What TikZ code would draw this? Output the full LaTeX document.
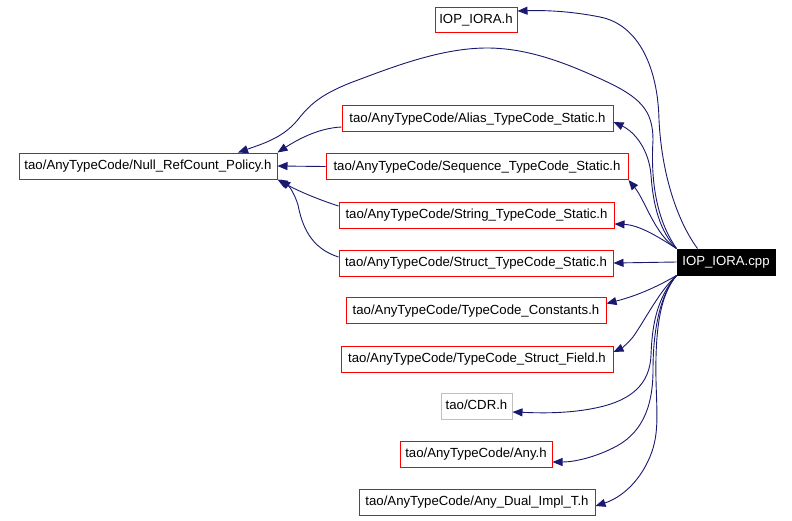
\documentclass[tikz,border=0pt]{standalone}
\usepackage{fontspec}
\setmainfont{Liberation Sans}
\usetikzlibrary{arrows.meta}
\definecolor{edgeblue}{HTML}{191970}
\definecolor{boxred}{HTML}{FF0000}
\definecolor{boxgray}{HTML}{BFBFBF}
\begin{document}
\begin{tikzpicture}[x=1pt,y=-1pt,
  box/.style={draw=boxred, line width=1pt, inner sep=0pt, minimum height=26pt,
    text height=9.5pt, text depth=2.5pt,
    font=\fontsize{13.2}{15}\selectfont, text=black, fill=white},
  graybox/.style={box, draw=boxgray},
  mainbox/.style={box, draw=black, fill=black, text=white},
  edge/.style={draw=edgeblue, line width=0.9pt, -{Triangle[length=10pt,width=8pt]}}]
\fill[white] (0,0) rectangle (792,520);
\useasboundingbox (0,0) rectangle (792,520);

% nodes
\node[box, minimum width=82pt, minimum height=25pt] (iorah) at (476,19.5) {IOP\_IORA.h};
\node[box, minimum width=258pt] (null) at (148,166) {tao/AnyTypeCode/Null\_RefCount\_Policy.h};
\node[box, minimum width=271pt] (alias) at (477.5,118.5) {tao/AnyTypeCode/Alias\_TypeCode\_Static.h};
\node[box, minimum width=302pt] (seq) at (477,166.5) {tao/AnyTypeCode/Sequence\_TypeCode\_Static.h};
\node[box, minimum width=275pt] (string) at (476.5,215) {tao/AnyTypeCode/String\_TypeCode\_Static.h};
\node[box, minimum width=274pt] (struct) at (476,263) {tao/AnyTypeCode/Struct\_TypeCode\_Static.h};
\node[box, minimum width=260pt] (const) at (476,310.5) {tao/AnyTypeCode/TypeCode\_Constants.h};
\node[box, minimum width=272pt] (field) at (477,359) {tao/AnyTypeCode/TypeCode\_Struct\_Field.h};
\node[graybox, minimum width=71pt] (cdr) at (476.5,406) {tao/CDR.h};
\node[box, minimum width=152pt] (any) at (476,454) {tao/AnyTypeCode/Any.h};
\node[box, minimum width=236pt] (dual) at (477,502) {tao/AnyTypeCode/Any\_Dual\_Impl\_T.h};
\node[mainbox, minimum width=98pt] (cpp) at (726,262) {IOP\_IORA.cpp};

% edges from IOP_IORA.cpp
\draw[edge] ([xshift=21pt]cpp.north west) .. controls (680,225) and (662,180) .. (659,120)
  .. controls (658,70) and (640,25) .. (600,17)
  .. controls (575,12) and (550,10) .. ([yshift=8.5pt]iorah.east);
\draw[edge] (cpp.north west) .. controls (660,225) and (650,190) .. (653,140)
  .. controls (653,110) and (640,97) .. (603,80)
  .. controls (570,65) and (530,48) .. (487,48)
  .. controls (440,48) and (390,68) .. (350,83)
  .. controls (320,95) and (310,105) .. (300,117)
  .. controls (285,137) and (265,143) .. ([xshift=90pt]null.north);
\draw[edge] (cpp.north west) .. controls (660,232) and (653,205) .. (651,175)
  .. controls (649,150) and (635,132) .. ([yshift=-3.5pt]alias.east);
\draw[edge] (cpp.north west) .. controls (655,235) and (645,200) .. (seq.south east);
\draw[edge] (cpp.north west) .. controls (660,238) and (640,225) .. ([yshift=-9pt]string.east);
\draw[edge] (cpp.west) -- (struct.east);
\draw[edge] (cpp.south west) .. controls (660,285) and (640,295) .. ([yshift=7pt]const.east);
\draw[edge] (cpp.south west) .. controls (660,290) and (645,320) .. (633,337)
  .. controls (628,343) and (622,348) .. ([yshift=7pt]field.east);
\draw[edge] (cpp.south west) .. controls (655,300) and (652,330) .. (651,355)
  .. controls (650,385) and (630,400) .. (600,407)
  .. controls (570,414) and (540,413) .. ([yshift=-6pt]cdr.east);
\draw[edge] (cpp.south west) .. controls (660,295) and (653,330) .. (653,370)
  .. controls (653,410) and (640,435) .. (613,448)
  .. controls (595,457) and (575,462) .. ([yshift=-8pt]any.east);
\draw[edge] (cpp.south west) .. controls (660,295) and (655,330) .. (656,380)
  .. controls (657,420) and (660,440) .. (645,467)
  .. controls (635,485) and (620,498) .. ([yshift=-4pt]dual.east);

% edges into Null_RefCount_Policy.h
\draw[edge] ([yshift=-8.5pt]alias.west) .. controls (320,128) and (300,138) .. (null.north east);
\draw[edge] (seq.west) -- (null.east);
\draw[edge] ([yshift=9pt]string.west) .. controls (320,200) and (300,192) .. (null.south east);
\draw[edge] ([yshift=6pt]struct.west) .. controls (310,248) and (302,225) .. (298,205)
  .. controls (295,195) and (290,187) .. ([xshift=3pt]null.south east);
\end{tikzpicture}
\end{document}
